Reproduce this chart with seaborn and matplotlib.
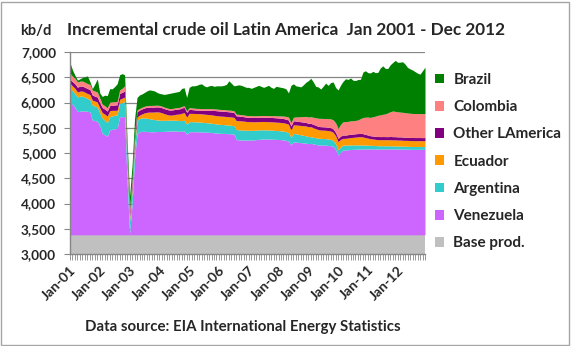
import numpy as np
import pandas as pd
import matplotlib
matplotlib.use("Agg")
import matplotlib.pyplot as plt
import seaborn as sns
from matplotlib.patches import Rectangle

# ---------------- data (kb/d, monthly Jan 2001 - Dec 2012) ----------------
months = pd.date_range("2001-01-01", "2012-12-01", freq="MS")
tick_labels = ["Jan-01", "Jan-02", "Jan-03", "Jan-04", "Jan-05", "Jan-06",
               "Jan-07", "Jan-08", "Jan-09", "Jan-10", "Jan-11", "Jan-12"]
series_names = ["Base prod.", "Venezuela", "Argentina", "Ecuador",
                "Other LAmerica", "Colombia", "Brazil"]

base_prod = 3380

venezuela = [
    2636, 2580, 2520, 2440, 2450, 2455, 2450, 2445, 2438, 2273, 2260, 2250,
    2150, 2010, 1980, 1950, 2075, 2090, 2100, 2108, 2339, 2339, 2339, 1050,
    30, 600, 1500, 2000, 2040, 2050, 2050, 2045, 2042, 2040, 2042, 2045,
    2045, 2045, 2048, 2050, 2052, 2055, 2055, 2055, 2050, 2050, 2055, 1990,
    2040, 2042, 2042, 2040, 2040, 2038, 2035, 2032, 2030, 2025, 2020, 2015,
    2010, 2009, 2008, 2005, 2002, 2000, 1995, 1885, 1880, 1878, 1877, 1875,
    1875, 1878, 1880, 1885, 1890, 1895, 1897, 1897, 1897, 1895, 1893, 1890,
    1888, 1885, 1880, 1870, 1855, 1780, 1840, 1835, 1830, 1825, 1820, 1815,
    1805, 1811, 1800, 1790, 1780, 1778, 1778, 1775, 1770, 1765, 1750, 1690,
    1580, 1640, 1679, 1680, 1685, 1690, 1692, 1695, 1697, 1699, 1699, 1699,
    1700, 1700, 1702, 1700, 1698, 1698, 1700, 1700, 1700, 1702, 1700, 1700,
    1698, 1698, 1696, 1695, 1695, 1693, 1692, 1692, 1692, 1692, 1692, 1692,
]
argentina = [
    265, 270, 280, 290, 297, 290, 275, 255, 240, 297, 290, 280,
    265, 300, 290, 270, 264, 265, 265, 268, 265, 280, 297, 280,
    250, 255, 260, 263, 264, 264, 264, 262, 258, 250, 240, 230,
    225, 222, 220, 218, 218, 216, 215, 213, 212, 212, 214, 200,
    200, 198, 196, 195, 194, 192, 190, 188, 186, 184, 182, 180,
    178, 176, 174, 172, 170, 168, 166, 200, 200, 198, 196, 195,
    194, 192, 190, 188, 186, 184, 182, 180, 178, 178, 177, 176,
    175, 174, 173, 172, 170, 150, 168, 165, 160, 155, 150, 145,
    140, 132, 132, 132, 132, 132, 130, 130, 128, 125, 120, 110,
    99, 100, 99, 95, 92, 90, 88, 85, 82, 80, 78, 76,
    74, 72, 70, 68, 66, 65, 64, 63, 62, 61, 60, 60,
    60, 60, 58, 58, 58, 57, 57, 56, 56, 56, 55, 55,
]
ecuador = [
    99, 97, 100, 98, 99, 101, 99, 98, 100, 97, 99, 100,
    100, 110, 120, 130, 120, 110, 100, 90, 80, 85, 92, 90,
    80, 85, 90, 70, 66, 80, 100, 119, 130, 140, 150, 160,
    160, 150, 130, 115, 100, 100, 110, 120, 130, 145, 150, 140,
    165, 165, 165, 165, 165, 165, 165, 165, 165, 165, 165, 165,
    165, 165, 165, 165, 165, 165, 165, 175, 180, 180, 178, 175,
    172, 170, 168, 166, 165, 165, 165, 165, 165, 165, 165, 165,
    165, 165, 165, 165, 165, 150, 170, 175, 180, 185, 190, 195,
    195, 198, 190, 180, 170, 165, 165, 165, 165, 165, 160, 160,
    165, 150, 132, 135, 140, 145, 150, 155, 160, 165, 160, 150,
    140, 130, 125, 122, 120, 120, 120, 120, 120, 120, 120, 120,
    118, 118, 118, 117, 117, 116, 116, 116, 116, 116, 116, 116,
]
other_lamerica = [
    79, 85, 90, 95, 99, 99, 98, 99, 100, 99, 98, 97,
    98, 100, 100, 99, 99, 100, 105, 110, 115, 118, 120, 115,
    100, 105, 110, 105, 99, 99, 99, 99, 99, 99, 99, 99,
    100, 100, 100, 100, 100, 100, 100, 100, 100, 105, 105, 95,
    80, 75, 72, 70, 70, 72, 75, 80, 85, 90, 95, 98,
    99, 99, 99, 99, 99, 99, 98, 95, 92, 90, 88, 86,
    86, 86, 86, 86, 86, 86, 86, 86, 86, 86, 86, 86,
    86, 85, 84, 83, 82, 75, 80, 78, 76, 74, 72, 70,
    68, 66, 66, 66, 66, 66, 66, 66, 66, 66, 66, 66,
    66, 66, 66, 66, 66, 66, 66, 66, 66, 66, 66, 64,
    62, 60, 60, 60, 62, 62, 62, 62, 62, 64, 64, 64,
    64, 64, 64, 64, 62, 62, 62, 62, 62, 62, 62, 62,
]
colombia = [
    118, 112, 108, 102, 99, 100, 99, 99, 99, 99, 100, 100,
    95, 70, 66, 66, 66, 66, 66, 66, 70, 80, 100, 90,
    60, 50, 40, 35, 33, 33, 33, 33, 33, 33, 33, 33,
    32, 31, 30, 30, 30, 30, 30, 30, 30, 30, 30, 28,
    33, 33, 33, 33, 33, 33, 33, 33, 33, 33, 33, 33,
    33, 33, 33, 33, 33, 33, 33, 33, 33, 33, 33, 33,
    33, 33, 33, 33, 33, 33, 33, 33, 34, 36, 38, 40,
    42, 45, 50, 55, 60, 65, 70, 80, 90, 100, 110, 120,
    125, 132, 140, 150, 160, 165, 165, 168, 170, 175, 180, 190,
    198, 230, 264, 264, 264, 264, 264, 264, 270, 290, 320, 340,
    355, 363, 380, 400, 420, 430, 440, 450, 470, 490, 508, 500,
    495, 490, 490, 485, 480, 478, 476, 475, 475, 475, 475, 475,
]
brazil = [
    210, 120, 60, 40, 45, 70, 110, 150, 60, 30, 140, 260,
    100, 150, 210, 240, 270, 260, 300, 350, 300, 290, 220, 250,
    250, 280, 300, 247, 268, 264, 274, 292, 308, 298, 286, 253,
    238, 242, 252, 277, 300, 309, 310, 312, 318, 358, 356, 267,
    402, 437, 442, 457, 478, 490, 452, 432, 451, 463, 445, 459,
    465, 468, 481, 506, 581, 535, 493, 572, 585, 581, 568, 556,
    560, 541, 563, 582, 600, 577, 557, 579, 600, 560, 541, 583,
    574, 566, 558, 545, 478, 740, 662, 617, 604, 591, 628, 675,
    720, 760, 700, 620, 620, 580, 640, 700, 660, 720, 750, 700,
    760, 780, 800, 850, 830, 850, 800, 790, 800, 780, 900, 920,
    880, 880, 900, 860, 850, 930, 960, 900, 880, 930, 960, 1010,
    980, 990, 1000, 960, 900, 880, 860, 830, 800, 780, 850, 920,
]

# ---------------- figure ----------------
sns.set_theme(style="white")
plt.rcParams['font.family'] = ['Lato', 'DejaVu Sans']
plt.rcParams['font.weight'] = 'bold'

W, H = 571, 346
fig = plt.figure(figsize=(W / 100, H / 100), dpi=100)
fig.patch.set_facecolor("white")
fig.add_artist(Rectangle((1 / W, 1 / H), (W - 3) / W, (H - 3) / H,
                         transform=fig.transFigure, fill=False,
                         edgecolor="#a6a6a6", linewidth=1.0))

ax = fig.add_axes([70 / W, 1 - 254 / H, 355 / W, 202 / H])
x = np.arange(len(months))
base_series = np.full(len(months), base_prod)
colors = ["#c0c0c0", "#cc66ff", "#33cccc", "#ff9900", "#800080", "#ff8080", "#008000"]
data = [base_series, venezuela, argentina, ecuador, other_lamerica, colombia, brazil]
polys = ax.stackplot(x, *data, colors=colors, labels=series_names, linewidth=0)

ax.set_xlim(0, len(months) - 1)
ax.set_ylim(3000, 7000)
yt = np.arange(3000, 7001, 500)
ax.set_yticks(yt)
ax.set_yticklabels([f"{v:,.0f}" for v in yt], fontsize=9.8, fontweight='bold')
for v in yt[1:]:
    ax.axhline(v, color="#868686", lw=0.9, zorder=0.5)
ax.set_axisbelow(True)

ax.set_xticks(x, minor=True)
ax.set_xticks(x[::12])
ax.set_xticklabels(tick_labels, rotation=45, ha="right", rotation_mode="anchor",
                   fontsize=10, fontweight='bold')
ax.tick_params(axis="x", which="both", direction="out", length=4, width=0.6,
               color="#868686", bottom=True, pad=3)
ax.tick_params(axis="y", which="major", direction="out", length=4, width=0.8,
               color="#868686", left=True, pad=6)
for s in ["top", "right"]:
    ax.spines[s].set_visible(False)
for s in ["left", "bottom"]:
    ax.spines[s].set_color("#868686")
    ax.spines[s].set_linewidth(1.0)
ax.grid(False)

fig.text(20 / W, 1 - 31 / H, "kb/d", fontsize=10.5, fontweight='bold', va="center", ha="left")
fig.text(67 / W, 1 - 30 / H, "Incremental crude oil Latin America  Jan 2001 - Dec 2012",
         fontsize=12.3, fontweight='bold', va="center", ha="left")
fig.text(243 / W, 1 - 327 / H, "Data source: EIA International Energy Statistics",
         fontsize=10.8, fontweight='bold', va="center", ha="center")

handles = polys[::-1]
labels = series_names[::-1]
leg = fig.legend(handles, labels, loc="upper left",
                 bbox_to_anchor=(435 / W, 1 - 73 / H), frameon=False,
                 prop={'size': 11, 'weight': 'bold'}, handlelength=0.6,
                 handleheight=0.6, handletextpad=0.6, labelspacing=0.865,
                 borderaxespad=0, borderpad=0)

fig.savefig("out.png", dpi=100)
